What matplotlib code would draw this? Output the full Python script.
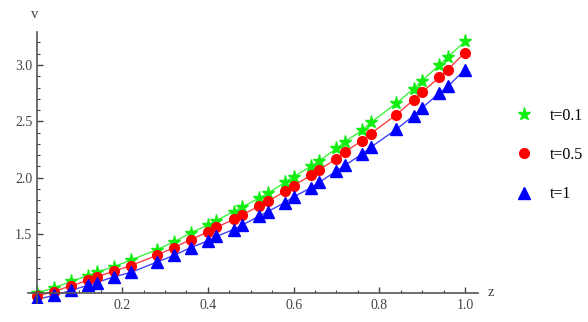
import numpy as np
import matplotlib
matplotlib.use("Agg")
import matplotlib.pyplot as plt
from matplotlib.ticker import FixedLocator

# данные
z = [0, 0.04, 0.08, 0.12, 0.14, 0.18, 0.22, 0.28, 0.32, 0.36,
     0.40, 0.42, 0.46, 0.48, 0.52, 0.54, 0.58, 0.60, 0.64, 0.66,
     0.70, 0.72, 0.76, 0.78, 0.84, 0.88, 0.90, 0.94, 0.96, 1.0]

v_t01 = [0.98, 1.02, 1.08, 1.13, 1.16, 1.21, 1.27, 1.36, 1.43, 1.51,
         1.58, 1.62, 1.70, 1.74, 1.82, 1.86, 1.96, 2.01, 2.10, 2.15,
         2.26, 2.32, 2.42, 2.49, 2.66, 2.79, 2.86, 3.00, 3.07, 3.21]

v_t05 = [0.95, 0.99, 1.04, 1.09, 1.12, 1.17, 1.22, 1.31, 1.38, 1.45,
         1.52, 1.56, 1.63, 1.67, 1.75, 1.79, 1.88, 1.93, 2.02, 2.07,
         2.17, 2.23, 2.33, 2.39, 2.56, 2.69, 2.76, 2.89, 2.96, 3.11]

v_t1 = [0.92, 0.955, 1.00, 1.045, 1.07, 1.12, 1.16, 1.25, 1.31, 1.38,
        1.44, 1.48, 1.54, 1.58, 1.66, 1.70, 1.78, 1.83, 1.91, 1.96,
        2.06, 2.11, 2.21, 2.27, 2.43, 2.55, 2.62, 2.75, 2.81, 2.96]

labels = ['t=0.1', 't=0.5', 't=1']

x_major = [0.2, 0.4, 0.6, 0.8, 1.0]
y_major = [1.5, 2.0, 2.5, 3.0]

plt.rcParams['font.family'] = ['Liberation Serif', 'DejaVu Serif']

fig = plt.figure(figsize=(5.88, 3.22), dpi=100)
ax = fig.add_axes([0.0476, 0.0596, 0.765, 0.840])

ax.plot(z, v_t01, color='#00ee00', lw=1.0, alpha=0.75)
ax.plot(z, v_t05, color='#ff0000', lw=1.0, alpha=0.75)
ax.plot(z, v_t1, color='#0000ff', lw=1.0, alpha=0.75)

ax.plot(z, v_t01, ls='none', marker='*', ms=9.5, color='#11ee11', label=labels[0])
ax.plot(z, v_t05, ls='none', marker='o', ms=7, color='#ff0000', label=labels[1])
ax.plot(z, v_t1, ls='none', marker='^', ms=8, color='#0000ff', label=labels[2])

ax.set_xlim(-0.02, 1.03)
ax.set_ylim(0.89, 3.29)

for s in ['top', 'right']:
    ax.spines[s].set_visible(False)
ax.spines['left'].set_position(('data', 0))
ax.spines['bottom'].set_position(('data', 0.977))
for s in ['left', 'bottom']:
    ax.spines[s].set_color('#555555')
    ax.spines[s].set_linewidth(1.2)

ax.xaxis.set_major_locator(FixedLocator(x_major))
ax.xaxis.set_minor_locator(FixedLocator(np.arange(0.05, 1.01, 0.05)))
ax.yaxis.set_major_locator(FixedLocator(y_major))
ax.yaxis.set_minor_locator(FixedLocator(np.arange(1.0, 3.21, 0.1)))
ax.set_xticklabels(['0.2', '0.4', '0.6', '0.8', '1.0'])
ax.set_yticklabels(['1.5', '2.0', '2.5', '3.0'])

ax.tick_params(which='both', direction='in', color='#444444', labelsize=10,
               labelcolor='#444444')
ax.tick_params(which='major', length=4, width=1)
ax.tick_params(which='minor', length=2.5, width=0.8)
ax.tick_params(axis='x', pad=4)
ax.tick_params(axis='y', pad=3)

fig.text(35 / 588, 1 - 15 / 322, 'v', ha='center', va='center',
         fontsize=10.5, color='#444444')
fig.text(491 / 588, 1 - 292 / 322, 'z', ha='center', va='center',
         fontsize=10.5, color='#444444')

fig.legend(loc='center left', bbox_to_anchor=(500 / 588, 1 - 155 / 322),
           frameon=False, fontsize=11.5, handlelength=1.2, handletextpad=1.0,
           labelspacing=1.45, numpoints=1)

fig.savefig('out.png', dpi=100)
